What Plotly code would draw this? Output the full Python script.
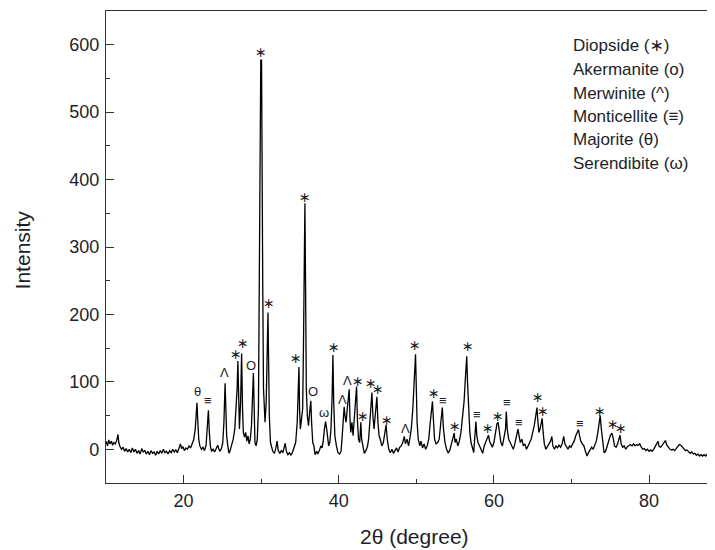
import plotly.graph_objects as go

# ---- XRD pattern (2θ in degrees, intensity in counts) ----
two_theta = [
    10.0, 10.2, 10.35, 10.5, 10.7, 10.85, 11.0, 11.2, 11.4, 11.55,
    11.65, 11.8, 12.0, 12.2, 12.4, 12.6, 12.8, 13.0, 13.2, 13.4,
    13.6, 13.8, 14.0, 14.2, 14.4, 14.6, 14.8, 15.0, 15.2, 15.4,
    15.6, 15.8, 16.0, 16.2, 16.4, 16.6, 16.8, 17.0, 17.2, 17.4,
    17.6, 17.8, 18.0, 18.2, 18.4, 18.6, 18.8, 19.0, 19.2, 19.4,
    19.6, 19.75, 19.9, 20.1, 20.3, 20.5, 20.7, 20.9, 21.1, 21.3,
    21.5, 21.65, 21.73, 21.82, 21.95, 22.1, 22.3, 22.5, 22.7, 22.9,
    23.05, 23.2, 23.32, 23.45, 23.6, 23.8, 24.0, 24.2, 24.4, 24.55,
    24.7, 24.9, 25.05, 25.2, 25.35, 25.45, 25.55, 25.7, 25.85, 26.0,
    26.2, 26.4, 26.6, 26.75, 26.9, 27.0, 27.1, 27.2, 27.35, 27.48,
    27.6, 27.7, 27.85, 28.0, 28.15, 28.3, 28.45, 28.6, 28.75, 28.9,
    29.0, 29.1, 29.2, 29.35, 29.5, 29.65, 29.78, 29.88, 29.95, 30.05,
    30.12, 30.2, 30.3, 30.4, 30.5, 30.65, 30.8, 30.88, 30.95, 31.05,
    31.2, 31.35, 31.5, 31.7, 31.9, 32.05, 32.2, 32.4, 32.6, 32.8,
    33.0, 33.1, 33.25, 33.45, 33.65, 33.85, 34.05, 34.25, 34.45, 34.65,
    34.8, 34.87, 34.95, 35.05, 35.2, 35.35, 35.45, 35.52, 35.64, 35.72,
    35.82, 35.95, 36.1, 36.25, 36.4, 36.5, 36.65, 36.8, 36.95, 37.15,
    37.3, 37.5, 37.7, 37.85, 38.0, 38.15, 38.3, 38.45, 38.55, 38.7,
    38.85, 39.0, 39.15, 39.25, 39.35, 39.5, 39.7, 39.9, 40.1, 40.3,
    40.45, 40.6, 40.7, 40.8, 40.95, 41.1, 41.25, 41.35, 41.45, 41.55,
    41.7, 41.85, 42.0, 42.15, 42.3, 42.42, 42.55, 42.7, 42.85, 42.95,
    43.1, 43.3, 43.5, 43.7, 43.85, 44.0, 44.15, 44.28, 44.4, 44.55,
    44.7, 44.85, 44.92, 45.05, 45.2, 45.35, 45.55, 45.75, 45.95, 46.1,
    46.25, 46.45, 46.65, 46.85, 47.05, 47.25, 47.45, 47.65, 47.85, 48.05,
    48.25, 48.45, 48.6, 48.8, 49.0, 49.15, 49.35, 49.55, 49.75, 49.9,
    50.0, 50.1, 50.25, 50.45, 50.6, 50.8, 51.0, 51.2, 51.4, 51.6,
    51.8, 51.95, 52.08, 52.2, 52.35, 52.55, 52.75, 52.95, 53.15, 53.35,
    53.5, 53.7, 53.9, 54.1, 54.3, 54.55, 54.75, 54.88, 55.0, 55.15,
    55.35, 55.55, 55.75, 55.95, 56.15, 56.35, 56.5, 56.6, 56.75, 56.9,
    57.05, 57.2, 57.4, 57.55, 57.68, 57.8, 57.95, 58.15, 58.35, 58.55,
    58.75, 58.95, 59.15, 59.3, 59.45, 59.6, 59.8, 60.0, 60.2, 60.4,
    60.55, 60.7, 60.9, 61.1, 61.3, 61.5, 61.6, 61.72, 61.9, 62.1,
    62.3, 62.5, 62.7, 62.9, 63.1, 63.25, 63.4, 63.6, 63.8, 64.0,
    64.2, 64.4, 64.6, 64.8, 65.0, 65.2, 65.4, 65.55, 65.65, 65.8,
    65.95, 66.1, 66.22, 66.35, 66.5, 66.7, 66.9, 67.1, 67.3, 67.47,
    67.6, 67.8, 68.0, 68.2, 68.4, 68.6, 68.8, 69.0, 69.15, 69.35,
    69.55, 69.75, 69.95, 70.15, 70.35, 70.55, 70.75, 70.9, 71.05, 71.2,
    71.4, 71.6, 71.8, 72.0, 72.2, 72.4, 72.6, 72.8, 73.0, 73.2,
    73.4, 73.55, 73.7, 73.85, 74.0, 74.2, 74.4, 74.6, 74.8, 75.0,
    75.2, 75.35, 75.55, 75.75, 75.95, 76.1, 76.25, 76.4, 76.6, 76.8,
    77.0, 77.2, 77.4, 77.6, 77.8, 78.0, 78.2, 78.4, 78.6, 78.8,
    79.0, 79.2, 79.4, 79.6, 79.8, 80.0, 80.2, 80.4, 80.6, 80.8,
    81.0, 81.15, 81.3, 81.5, 81.7, 81.9, 82.1, 82.3, 82.5, 82.7,
    82.9, 83.1, 83.3, 83.5, 83.7, 83.9, 84.1, 84.3, 84.5, 84.7,
    84.9, 85.1, 85.3, 85.5, 85.7, 85.9, 86.1, 86.3, 86.5, 86.7,
    86.9, 87.1, 87.3, 87.5, 87.7, 87.9, 88.1, 88.3, 88.5,
]

intensity = [
    12, 5, 14, 8, 12, 6, 10, 8, 14, 22,
    10, 4, 0, 3, -3, 1, -4, 0, -5, 2,
    -4, 0, -6, -2, -7, 1, -4, -2, -7, -3,
    -8, -2, -6, -4, -9, -3, -7, -2, -6, 0,
    -5, -3, -7, -2, -5, 0, -4, -1, -5, 2,
    8, 1, 4, -2, 2, 0, 5, 2, 10, 14,
    30, 60, 69, 45, 15, 5, 0, 3, -2, 6,
    30, 58, 25, 5, -3, 0, -4, 2, 6, 0,
    -3, 2, 10, 40, 98, 60, 20, 5, -6, -2,
    6, 15, 30, 60, 90, 131, 50, 30, 70, 142,
    60, 25, 18, 25, 12, 20, 8, 15, 35, 90,
    113, 60, 10, 5, 15, 60, 325, 515, 577, 577,
    480, 250, 90, 60, 40, 70, 150, 203, 140, 50,
    10, 5, -3, -6, 2, 12, -2, -6, -2, -5,
    4, 9, -3, -8, -5, -9, -4, 2, 10, 40,
    100, 122, 60, 30, 45, 60, 150, 295, 365, 250,
    90, 50, 35, 55, 72, 40, 10, 5, -8, -3,
    -7, -2, 5, 2, 12, 30, 41, 30, 15, 5,
    10, 30, 80, 140, 70, 20, 5, -5, -7, -3,
    20, 55, 63, 50, 40, 60, 80, 89, 45, 25,
    40, 20, 45, 75, 93, 40, 15, 10, 40, 15,
    5, -6, -2, 4, 15, 40, 70, 84, 50, 30,
    50, 72, 78, 40, 20, 15, 5, 10, 25, 36,
    15, 0, -5, 0, -6, -2, 2, -4, 3, 5,
    10, 19, 8, 15, 5, 15, 30, 60, 110, 141,
    90, 40, 15, 5, 12, 2, 8, 0, 5, 15,
    40, 60, 71, 45, 15, 8, 10, 15, 35, 62,
    30, 10, 0, -5, -2, 8, 18, 24, 10, 15,
    5, 12, 25, 45, 70, 110, 138, 100, 60, 25,
    10, 5, -5, 20, 41, 20, 10, 5, 0, -6,
    5, 10, 15, 21, 12, 8, 3, 10, 25, 38,
    40, 28, 10, 5, 15, 30, 56, 30, 15, 10,
    3, 0, 8, 20, 30, 20, 10, 15, 5, 8,
    0, 5, 10, 15, 25, 35, 50, 62, 45, 25,
    30, 40, 46, 25, 8, 0, 5, 8, 12, 19,
    5, 0, 5, 2, 6, 3, 8, 19, 8, 3,
    0, 5, 3, 8, 12, 20, 25, 29, 20, 12,
    8, 5, -3, -10, -5, 0, 3, 0, 5, 12,
    25, 40, 50, 30, 10, -5, -3, 5, 15, 20,
    24, 18, 5, 3, 8, 15, 21, 8, 3, 5,
    0, 4, 5, 7, 5, 8, 5, 7, 6, 8,
    3, 0, 1, -2, 0, -3, -1, -3, 0, 5,
    9, 12, 4, 3, 6, 10, 13, 6, 3, 0,
    -1, 0, -2, 1, 4, 7, 6, 3, 0, -2,
    -1, -4, -6, -4, -7, -6, -9, -7, -10, -8,
    -10, -8, -10, -7, -4, 0, 4, 6, 8,
]

# ---- phase marks above the peaks ----
mark_symbol = ["θ", "≡", "Λ", "∗", "∗", "O", "∗", "∗", "∗", "∗",
               "O", "ω", "∗", "Λ", "Λ", "∗", "∗", "∗", "∗", "∗",
               "Λ", "∗", "∗", "≡", "∗", "∗", "≡", "∗", "∗", "≡",
               "≡", "∗", "∗", "≡", "∗", "∗", "∗"]
mark_x = [21.73, 23.15, 25.28, 26.7, 27.6, 28.72, 29.97, 31.04, 34.52, 35.64,
          36.62, 38.13, 39.42, 40.5, 41.1, 42.45, 43.15, 44.15, 45.0, 46.2,
          48.57, 49.86, 52.22, 53.5, 55.0, 56.65, 57.8, 59.3, 60.5, 61.68,
          63.26, 65.62, 66.39, 71.12, 73.7, 75.33, 76.36]
mark_y = [86, 72, 114, 141, 157, 124, 589, 217, 135, 374,
          86, 54, 151, 74, 102, 101, 49, 98, 89, 44,
          31, 155, 84, 73, 34, 153, 51, 32, 49, 69,
          39, 77, 57, 38, 57, 37, 32]

# ---- phase key (top right) ----
key_lines = ["Diopside (∗)", "Akermanite (o)", "Merwinite (^)",
             "Monticellite (≡)", "Majorite (θ)", "Serendibite (ω)"]
key_y = [599, 563, 528, 494, 459, 424]
key_x = 69.9

x_ticks = [20, 40, 60, 80]
y_ticks = [0, 100, 200, 300, 400, 500, 600]

FONT = "Arial, Liberation Sans, DejaVu Sans, sans-serif"
TXT = "#1e1e28"

fig = go.Figure()
fig.add_trace(go.Scatter(
    x=two_theta, y=intensity, mode="lines",
    line=dict(color="black", width=1.3),
    showlegend=False, hoverinfo="skip",
))

annotations = []
for s, x, y in zip(mark_symbol, mark_x, mark_y):
    big = s == "∗"
    annotations.append(dict(
        x=x, y=y, xref="x", yref="y", text=s, showarrow=False,
        xanchor="center", yanchor="middle",
        font=dict(family=FONT, size=14 if big else 13, color=TXT),
    ))
for t, y in zip(key_lines, key_y):
    annotations.append(dict(
        x=key_x, y=y, xref="x", yref="y", text=t, showarrow=False,
        xanchor="left", yanchor="middle",
        font=dict(family=FONT, size=17, color=TXT),
    ))
annotations.append(dict(
    x=-0.137, y=0.494, xref="paper", yref="paper", text="Intensity",
    textangle=-90, showarrow=False, xanchor="center", yanchor="middle",
    font=dict(family=FONT, size=21, color=TXT),
))
annotations.append(dict(
    x=0.506, y=-0.114, xref="paper", yref="paper", text="2θ (degree)",
    showarrow=False, xanchor="center", yanchor="middle",
    font=dict(family=FONT, size=21, color=TXT),
))

# the page body adds an 8 px offset, so the figure is sized 8 px smaller
fig.update_layout(
    width=707, height=542,
    margin=dict(l=98, r=0, t=3, b=67),
    paper_bgcolor="white", plot_bgcolor="white",
    annotations=annotations,
    font=dict(family=FONT, color=TXT),
)
fig.update_xaxes(
    range=[10, 88.5], tickvals=x_ticks, ticks="inside", ticklen=8,
    tickwidth=1.2, tickcolor="#333",
    minor=dict(dtick=10, tick0=0, ticks="inside", ticklen=4, tickcolor="#333", tickwidth=1.2),
    showline=True, linecolor="#333", linewidth=1.2, mirror=True,
    showgrid=False, zeroline=False,
    tickfont=dict(family=FONT, size=18, color=TXT), ticklabelstandoff=1,
)
fig.update_yaxes(
    range=[-50, 650], tickvals=y_ticks, ticks="inside", ticklen=8,
    tickwidth=1.2, tickcolor="#333",
    minor=dict(dtick=50, tick0=0, ticks="inside", ticklen=4, tickcolor="#333", tickwidth=1.2),
    showline=True, linecolor="#333", linewidth=1.2, mirror=False,
    showgrid=False, zeroline=False,
    tickfont=dict(family=FONT, size=18, color=TXT), ticklabelstandoff=2,
)

fig.write_html("out.html")
